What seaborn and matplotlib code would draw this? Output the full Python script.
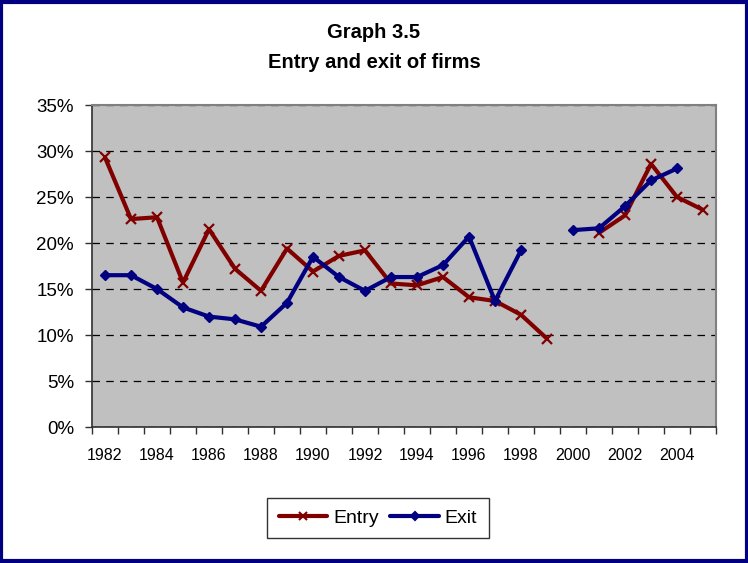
import numpy as np
import pandas as pd
import matplotlib.pyplot as plt
from matplotlib.lines import Line2D
from matplotlib.patches import Rectangle
from matplotlib.ticker import PercentFormatter
import seaborn as sns

years = list(range(1982, 2006))
entry = [29.3, 22.6, 22.8, 15.7, 21.5, 17.2, 14.8, 19.4, 16.9, 18.6, 19.2, 15.6,
         15.4, 16.3, 14.1, 13.7, 12.2, 9.6, np.nan, 21.1, 23.0, 28.6, 25.0, 23.6]
exit_ = [16.5, 16.5, 15.0, 13.0, 12.0, 11.7, 10.9, 13.5, 18.5, 16.3, 14.8, 16.3,
         16.3, 17.6, 20.7, 13.7, 19.2, np.nan, 21.4, 21.6, 24.0, 26.8, 28.1, np.nan]
label_years = list(range(1982, 2006, 2))
series_names = ["Entry", "Exit"]
series_colors = {"Entry": "#800000", "Exit": "#000080"}
series_markers = {"Entry": "x", "Exit": "D"}


def to_long(name, values):
    df = pd.DataFrame({"year": years, "share": np.array(values) / 100.0})
    df["series"] = name
    # number each unbroken run so gaps stay gaps
    df["segment"] = df["share"].isna().cumsum()
    return df.dropna()


long_df = pd.concat([to_long("Entry", entry), to_long("Exit", exit_)])

sns.set_theme(style="white")
plt.rcParams["font.family"] = ["Liberation Sans", "DejaVu Sans"]
plt.rcParams["text.color"] = "black"
plt.rcParams["xtick.color"] = "black"
plt.rcParams["ytick.color"] = "black"

fig = plt.figure(figsize=(7.48, 5.63), dpi=100)
ax = fig.add_axes([92 / 748, 1 - 427 / 563, 624 / 748, 322 / 563])
ax.set_facecolor("#C0C0C0")

for name in series_names:
    sub = long_df[long_df["series"] == name]
    sns.lineplot(data=sub, x="year", y="share", units="segment", estimator=None,
                 color=series_colors[name], marker=series_markers[name],
                 markersize=7 if name == "Entry" else 5.5,
                 markeredgewidth=1.6 if name == "Entry" else 1,
                 markeredgecolor=series_colors[name],
                 linewidth=3, ax=ax, legend=False)

ax.set_xlim(1981.5, 2005.5)
ax.set_ylim(0, 0.35)
ax.set_yticks(np.arange(0, 0.351, 0.05))
ax.yaxis.set_major_formatter(PercentFormatter(1.0, decimals=0))
ax.yaxis.grid(True, color="black", linestyle=(0, (6, 5)), linewidth=0.9)
ax.set_axisbelow(True)

# tick marks between categories, labels centred on every other year
ax.set_xticks(np.arange(1981.5, 2006, 1.0))
ax.set_xticklabels([])
ax.set_xticks(label_years, minor=True)
ax.set_xticklabels([str(y) for y in label_years], minor=True, fontsize=11.5)
ax.tick_params(axis="x", which="major", direction="out", length=5, width=1,
               color="#303030", bottom=True)
ax.tick_params(axis="x", which="minor", length=0, pad=15)
ax.tick_params(axis="y", direction="out", length=5, width=1, color="#303030",
               left=True, labelsize=13.5, pad=8)

ax.set_xlabel("")
ax.set_ylabel("")
for side in ["left", "bottom"]:
    ax.spines[side].set_color("#303030")
    ax.spines[side].set_linewidth(1.2)
for side in ["top", "right"]:
    ax.spines[side].set_color("#808080")
    ax.spines[side].set_linewidth(1.5)

fig.text(0.5, 1 - 33 / 563, "Graph 3.5", ha="center", va="center",
         fontsize=14.5, fontweight="bold")
fig.text(0.5, 1 - 62 / 563, "Entry and exit of firms", ha="center", va="center",
         fontsize=14.5, fontweight="bold")

handles = [Line2D([], [], color=series_colors[n], marker=series_markers[n], linewidth=3,
                  markersize=6 if n == "Entry" else 4.5, markeredgewidth=1.5)
           for n in series_names]
leg = fig.legend(handles, series_names, loc="center", ncol=2,
                 bbox_to_anchor=(378 / 748, 1 - 518 / 563), fontsize=14,
                 frameon=True, fancybox=False, edgecolor="black", handlelength=2.5,
                 columnspacing=0.6, handletextpad=0.3, borderpad=0.6)
leg.get_frame().set_linewidth(1)

fig.patches.append(Rectangle((0.002, 0.003), 0.996, 0.994, transform=fig.transFigure,
                             fill=False, edgecolor="#000080", linewidth=3))

fig.savefig("out.png", dpi=100, facecolor="white")
